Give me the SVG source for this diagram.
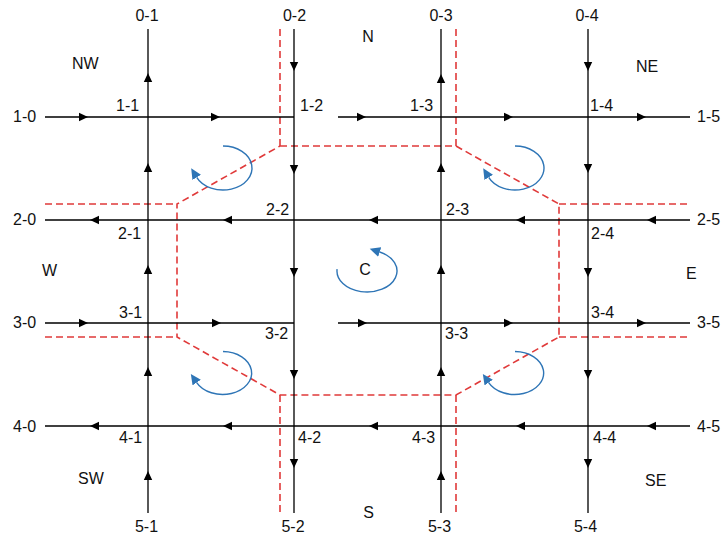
<svg xmlns="http://www.w3.org/2000/svg" xmlns:xlink="http://www.w3.org/1999/xlink" width="723" height="538" viewBox="0 0 723 538">
<style>
.ln{stroke:#000;stroke-width:1.3;fill:none}
.ah{fill:#000}
.bd{stroke:#e03a3a;stroke-width:1.6;fill:none;stroke-dasharray:7,4}
.rot{stroke:#2e75b6;stroke-width:1.4;fill:none;marker-end:url(#bh)}
text{font-family:"Liberation Sans",Arial,sans-serif;font-size:16px;fill:#111}
.c{text-anchor:middle}
</style>
<defs>
<path id="ah" class="ah" d="M0,0 L-9,-4.2 L-9,4.2 Z"/>
<marker id="bh" markerUnits="userSpaceOnUse" markerWidth="11" markerHeight="10" refX="0" refY="5" orient="auto">
<path d="M0,0 L10.5,5 L0,10 Z" fill="#2e75b6"/>
</marker>
</defs>
<rect width="723" height="538" fill="#fff"/>

<g id="boundary">
<path class="bd" d="M280,146 L456,146 L559,204 L559,337 L456,395 L280,395 L177,337 L177,204 Z"/>
<path class="bd" d="M280,29 V146 M456,29 V146 M280,395 V513 M456,395 V513 M45,204 H177 M45,337 H177 M559,204 H690 M559,337 H690"/>
</g>

<g id="connectors">
<path class="ln" d="M45,117 H294 M338,117 H690"/>
<path class="ln" d="M45,220 H690"/>
<path class="ln" d="M45,323 H294 M338,323 H690"/>
<path class="ln" d="M45,426 H690"/>
<path class="ln" d="M148,29 V513 M294,29 V513 M441,29 V513 M588,29 V513"/>
<!-- row 1 right -->
<use href="#ah" transform="translate(88,117)"/>
<use href="#ah" transform="translate(220,117)"/>
<use href="#ah" transform="translate(366,117)"/>
<use href="#ah" transform="translate(513,117)"/>
<use href="#ah" transform="translate(646,117)"/>
<!-- row 2 left -->
<use href="#ah" transform="translate(90,220) rotate(180)"/>
<use href="#ah" transform="translate(223,220) rotate(180)"/>
<use href="#ah" transform="translate(369,220) rotate(180)"/>
<use href="#ah" transform="translate(516,220) rotate(180)"/>
<use href="#ah" transform="translate(647,220) rotate(180)"/>
<!-- row 3 right -->
<use href="#ah" transform="translate(88,323)"/>
<use href="#ah" transform="translate(221,323)"/>
<use href="#ah" transform="translate(367,323)"/>
<use href="#ah" transform="translate(513,323)"/>
<use href="#ah" transform="translate(646,323)"/>
<!-- row 4 left -->
<use href="#ah" transform="translate(90,426) rotate(180)"/>
<use href="#ah" transform="translate(223,426) rotate(180)"/>
<use href="#ah" transform="translate(369,426) rotate(180)"/>
<use href="#ah" transform="translate(516,426) rotate(180)"/>
<use href="#ah" transform="translate(647,426) rotate(180)"/>
<!-- col 1 up -->
<use href="#ah" transform="translate(148,73) rotate(-90)"/>
<use href="#ah" transform="translate(148,163) rotate(-90)"/>
<use href="#ah" transform="translate(148,265) rotate(-90)"/>
<use href="#ah" transform="translate(148,367) rotate(-90)"/>
<use href="#ah" transform="translate(148,471) rotate(-90)"/>
<!-- col 2 down -->
<use href="#ah" transform="translate(294,71) rotate(90)"/>
<use href="#ah" transform="translate(294,174) rotate(90)"/>
<use href="#ah" transform="translate(294,277) rotate(90)"/>
<use href="#ah" transform="translate(294,379) rotate(90)"/>
<use href="#ah" transform="translate(294,468) rotate(90)"/>
<!-- col 3 up -->
<use href="#ah" transform="translate(441,74) rotate(-90)"/>
<use href="#ah" transform="translate(441,163) rotate(-90)"/>
<use href="#ah" transform="translate(441,265) rotate(-90)"/>
<use href="#ah" transform="translate(441,367) rotate(-90)"/>
<use href="#ah" transform="translate(441,471) rotate(-90)"/>
<!-- col 4 down -->
<use href="#ah" transform="translate(588,71) rotate(90)"/>
<use href="#ah" transform="translate(588,173) rotate(90)"/>
<use href="#ah" transform="translate(588,277) rotate(90)"/>
<use href="#ah" transform="translate(588,379) rotate(90)"/>
<use href="#ah" transform="translate(588,468) rotate(90)"/>
</g>

<g id="rotations">
<path id="rot-nw" class="rot" d="M223,146 A29,22 0 1 1 196.7,177.3"/>
<path id="rot-ne" class="rot" d="M515,146 A29,22 0 1 1 488.7,177.3"/>
<path id="rot-sw" class="rot" d="M223,351.5 A29,21.5 0 1 1 196.7,382.6"/>
<path id="rot-se" class="rot" d="M515,351.5 A29,21.5 0 1 1 488.7,382.6"/>
<path id="rot-c" class="rot" d="M337.1,269.2 A30,21 0 1 0 379.7,252"/>
</g>

<g id="labels">
<g id="top" class="c">
<text x="147" y="21" class="c">0-1</text>
<text x="294.5" y="21" class="c">0-2</text>
<text x="441" y="21" class="c">0-3</text>
<text x="587" y="21" class="c">0-4</text>
</g>
<g id="bottom">
<text x="146.5" y="532" class="c">5-1</text>
<text x="293" y="532" class="c">5-2</text>
<text x="439.5" y="532" class="c">5-3</text>
<text x="585.5" y="532" class="c">5-4</text>
</g>
<g id="left">
<text x="13" y="122">1-0</text>
<text x="13" y="225">2-0</text>
<text x="13" y="328">3-0</text>
<text x="13" y="432">4-0</text>
</g>
<g id="right">
<text x="697" y="122">1-5</text>
<text x="697" y="225">2-5</text>
<text x="697" y="328">3-5</text>
<text x="697" y="432">4-5</text>
</g>
<g id="intersections">
<text x="116" y="110.5">1-1</text>
<text x="300" y="110.5">1-2</text>
<text x="410" y="110.5">1-3</text>
<text x="590" y="110.5">1-4</text>
<text x="118" y="238.5">2-1</text>
<text x="266" y="215">2-2</text>
<text x="446" y="215">2-3</text>
<text x="591" y="238.5">2-4</text>
<text x="119" y="318">3-1</text>
<text x="265" y="338.5">3-2</text>
<text x="445" y="338.5">3-3</text>
<text x="591" y="318">3-4</text>
<text x="119" y="443">4-1</text>
<text x="298" y="443">4-2</text>
<text x="412" y="443">4-3</text>
<text x="593" y="443">4-4</text>
</g>
<g id="zones">
<text x="368" y="42" class="c">N</text>
<text x="72" y="69">NW</text>
<text x="636" y="72">NE</text>
<text x="42" y="276">W</text>
<text x="686" y="279">E</text>
<text x="365" y="275" class="c">C</text>
<text x="78" y="484">SW</text>
<text x="645" y="486">SE</text>
<text x="368.5" y="518" class="c">S</text>
</g>
</g>
</svg>
